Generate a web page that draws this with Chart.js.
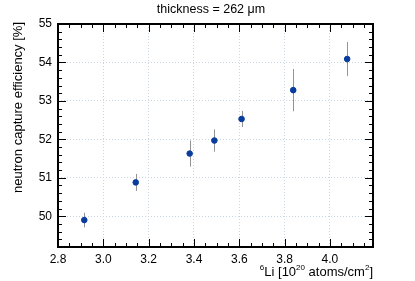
<!DOCTYPE html>
<html>
<head>
<meta charset="utf-8">
<script src="https://cdn.jsdelivr.net/npm/chart.js@4/dist/chart.umd.min.js"></script>
<style>
  html, body { margin: 0; padding: 0; background: #fff; }
  #wrap { width: 415px; height: 281px; }
</style>
</head>
<body>
<div id="wrap"><canvas id="effChart" width="415" height="281"></canvas></div>
<script>
      // values
      const li6 = [2.916, 3.143, 3.381, 3.490, 3.610, 3.838, 4.076];
      const efficiency = [49.90, 50.88, 51.63, 51.97, 52.53, 53.28, 54.09];
      const effErr = [0.19, 0.22, 0.34, 0.29, 0.21, 0.55, 0.44];

      const xTicks = [2.8, 3.0, 3.2, 3.4, 3.6, 3.8, 4.0];
      const yTicks = [50, 51, 52, 53, 54, 55];
      const xMinor = 0.05;
      const yMinor = 0.2;

      const FONT = 'Liberation Sans, Arial, sans-serif';

      // inward ticks on all four sides + error bars + titles
      const rootStyle = {
        id: 'rootStyle',
        beforeDatasetsDraw(chart) {
          const ctx = chart.ctx;
          const xs = chart.scales.x, ys = chart.scales.y;
          ctx.save();
          ctx.strokeStyle = '#939393';
          ctx.lineWidth = 1;
          li6.forEach((v, i) => {
            const px = Math.round(xs.getPixelForValue(v)) + 0.5;
            ctx.beginPath();
            ctx.moveTo(px, ys.getPixelForValue(efficiency[i] - effErr[i]));
            ctx.lineTo(px, ys.getPixelForValue(efficiency[i] + effErr[i]));
            ctx.stroke();
          });
          ctx.restore();
        },
        afterDraw(chart) {
          const ctx = chart.ctx;
          const a = chart.chartArea;
          const xs = chart.scales.x, ys = chart.scales.y;
          ctx.save();
          ctx.strokeStyle = '#000';
          ctx.lineWidth = 1;
          ctx.beginPath();
          for (let v = xs.min; v <= xs.max + 1e-9; v += xMinor) {
            const r = Math.round(v * 100) / 100;
            const major = Math.abs(r * 5 - Math.round(r * 5)) < 1e-6;
            const len = major ? 8 : 4;
            const px = Math.round(xs.getPixelForValue(r)) + 0.5;
            ctx.moveTo(px, a.bottom); ctx.lineTo(px, a.bottom - len);
            ctx.moveTo(px, a.top); ctx.lineTo(px, a.top + len);
          }
          for (let v = 49.2; v <= ys.max + 1e-9; v += yMinor) {
            const r = Math.round(v * 10) / 10;
            const major = Math.abs(r - Math.round(r)) < 1e-6;
            const len = major ? 8 : 4;
            const py = Math.round(ys.getPixelForValue(r)) + 0.5;
            ctx.moveTo(a.left, py); ctx.lineTo(a.left + len, py);
            ctx.moveTo(a.right, py); ctx.lineTo(a.right - len, py);
          }
          ctx.stroke();
          ctx.lineWidth = 2;
          ctx.strokeRect(a.left, a.top, a.right - a.left, a.bottom - a.top);

          ctx.fillStyle = '#000';
          ctx.font = '12.5px ' + FONT;
          ctx.textAlign = 'center';
          ctx.textBaseline = 'middle';
          ctx.fillText('thickness = 262 \u03bcm', 211, 10);

          // x title with superscripts, right aligned at the axis end
          const parts = [['6', true], ['Li [10', false], ['20', true], [' atoms/cm', false], ['2', true], [']', false]];
          let total = 0;
          parts.forEach(p => {
            ctx.font = (p[1] ? '8px ' : '13px ') + FONT;
            total += ctx.measureText(p[0]).width;
          });
          let x = a.right - total;
          ctx.textAlign = 'left';
          ctx.textBaseline = 'alphabetic';
          parts.forEach(p => {
            ctx.font = (p[1] ? '8px ' : '13px ') + FONT;
            ctx.fillText(p[0], x, p[1] ? 270 : 276);
            x += ctx.measureText(p[0]).width;
          });

          ctx.translate(18, a.top - 2);
          ctx.rotate(-Math.PI / 2);
          ctx.font = '13px ' + FONT;
          ctx.textAlign = 'right';
          ctx.textBaseline = 'middle';
          ctx.fillText('neutron capture efficiency [%]', 0, 0);
          ctx.restore();
        }
      };

      const gridStyle = {
        color: '#c8d5e2',
        lineWidth: 1,
        drawTicks: false
      };

      new Chart(document.getElementById('effChart').getContext('2d'), {
        type: 'scatter',
        data: {
          datasets: [{
            data: li6.map((v, i) => ({ x: v, y: efficiency[i] })),
            backgroundColor: '#0a3c9e',
            borderColor: '#0a3c9e',
            pointRadius: 2.8,
            pointHoverRadius: 2.8
          }]
        },
        options: {
          responsive: false,
          animation: false,
          events: [],
          layout: { padding: { left: 0, right: 42, top: 24, bottom: 0 } },
          plugins: { legend: { display: false }, tooltip: { enabled: false } },
          scales: {
            x: {
              type: 'linear',
              min: 2.8,
              max: 4.19,
              afterBuildTicks: s => { s.ticks = xTicks.map(v => ({ value: v })); },
              afterFit: s => { s.height = 34; },
              grid: gridStyle,
              border: { display: false, dash: [1, 2] },
              ticks: {
                color: '#000',
                padding: 5,
                font: { family: FONT, size: 12 },
                maxRotation: 0,
                callback: v => v.toFixed(1)
              }
            },
            y: {
              type: 'linear',
              min: 49.2,
              max: 55,
              afterBuildTicks: s => { s.ticks = yTicks.map(v => ({ value: v })); },
              afterFit: s => { s.width = 58; },
              grid: gridStyle,
              border: { display: false, dash: [1, 2] },
              ticks: {
                color: '#000',
                padding: 6,
                font: { family: FONT, size: 12 },
                callback: v => String(v)
              }
            }
          }
        },
        plugins: [rootStyle]
      });
</script>
</body>
</html>
